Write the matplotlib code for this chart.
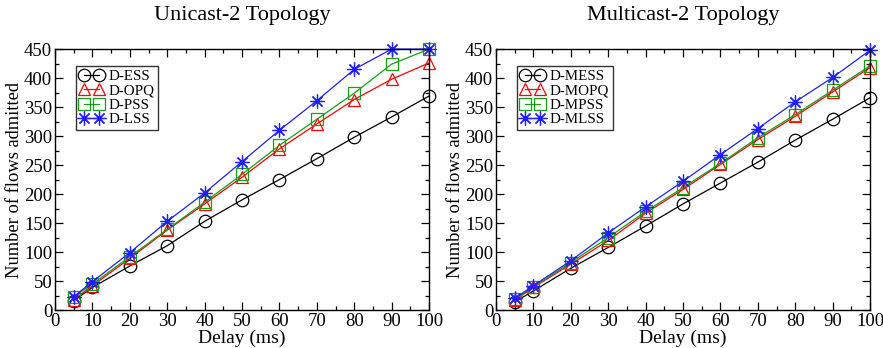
import matplotlib
matplotlib.use("Agg")
import matplotlib.pyplot as plt
from matplotlib.ticker import MultipleLocator

plt.rcParams['font.family'] = ['Liberation Serif', 'DejaVu Serif']

delay = [5, 10, 20, 30, 40, 50, 60, 70, 80, 90, 100]

# unicast
d_ess = [16, 39, 76, 111, 153, 190, 225, 261, 298, 333, 369]
d_opq = [18, 42, 89, 138, 183, 229, 278, 321, 363, 398, 426]
d_pss = [23, 45, 92, 139, 186, 234, 284, 329, 374, 424, 450]
d_lss = [23, 49, 99, 153, 202, 256, 310, 361, 415, 450, 450]

# multicast
d_mess = [14, 33, 72, 108, 145, 183, 219, 255, 293, 329, 366]
d_mopq = [17, 39, 79, 120, 167, 208, 251, 294, 334, 376, 418]
d_mpss = [19, 40, 82, 125, 170, 211, 253, 297, 337, 379, 421]
d_mlss = [20, 42, 85, 133, 178, 222, 268, 313, 359, 401, 448]

uni_labels = ['D-ESS', 'D-OPQ', 'D-PSS', 'D-LSS']
multi_labels = ['D-MESS', 'D-MOPQ', 'D-MPSS', 'D-MLSS']
colors = ['black', 'red', '#14a014', '#1f1fff']
markers = ['o', '^', 's', (8, 2, 0)]
sizes = [9, 9, 8, 10]

fig = plt.figure(figsize=(8.83, 3.48), dpi=100)
ax1 = fig.add_axes([0.0623, 0.109, 0.4236, 0.75])
ax2 = fig.add_axes([0.5617, 0.109, 0.4236, 0.75])


def draw(ax, series, labels, title):
    for y, lab, c, m, ms in zip(series, labels, colors, markers, sizes):
        ax.plot(delay, y, color=c, marker=m, markersize=ms, markerfacecolor='none',
                markeredgecolor=c, markeredgewidth=0.9, linewidth=0.9, label=lab,
                clip_on=False)
    ax.set_xlim(0, 100)
    ax.set_ylim(0, 450)
    ax.xaxis.set_major_locator(MultipleLocator(10))
    ax.xaxis.set_minor_locator(MultipleLocator(5))
    ax.yaxis.set_major_locator(MultipleLocator(50))
    ax.yaxis.set_minor_locator(MultipleLocator(25))
    ax.tick_params(which='both', direction='in', top=True, right=True, labelsize=13.5, pad=2)
    ax.tick_params(which='major', length=6, width=0.9)
    ax.tick_params(which='minor', length=3, width=0.9)
    for sp in ax.spines.values():
        sp.set_linewidth(1.0)
    ax.set_xlabel('Delay (ms)', fontsize=14, labelpad=0)
    ax.set_ylabel('Number of flows admitted', fontsize=13.3, labelpad=1)
    ax.set_title(title, fontsize=16, pad=21)
    leg = ax.legend(loc='upper left', bbox_to_anchor=(0.055, 0.935), numpoints=2,
                    fontsize=10.8, frameon=True, fancybox=False, handlelength=1.6,
                    handletextpad=0.35, borderpad=0.25, labelspacing=0.05,
                    borderaxespad=0)
    leg.get_frame().set_edgecolor('black')
    leg.get_frame().set_linewidth(1.0)


draw(ax1, [d_ess, d_opq, d_pss, d_lss], uni_labels, 'Unicast-2 Topology')
draw(ax2, [d_mess, d_mopq, d_mpss, d_mlss], multi_labels, 'Multicast-2 Topology')

fig.savefig('out.png', dpi=100)
